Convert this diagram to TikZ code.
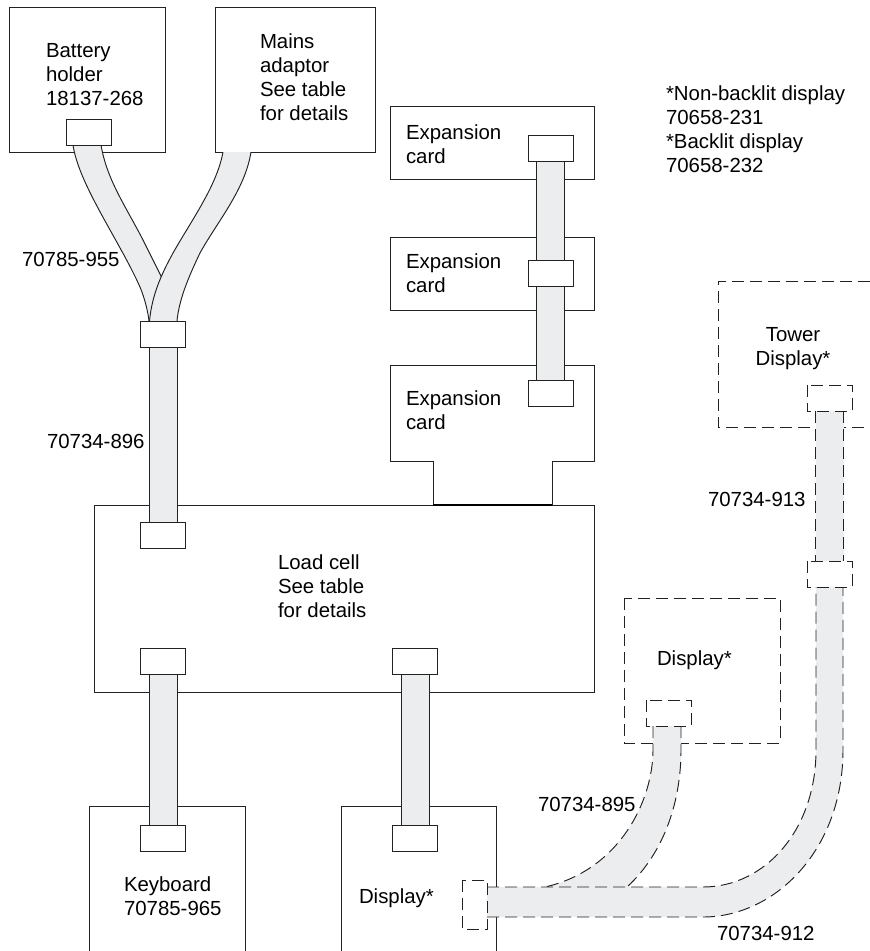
\documentclass[tikz,border=0pt]{standalone}
\usepackage{fontspec}
\setmainfont{Liberation Sans}
\usetikzlibrary{calc}
\definecolor{ink}{HTML}{222222}
\definecolor{band}{HTML}{ECEDEF}
\tikzset{
  box/.style={draw=ink,line width=0.95pt,fill=white,inner sep=0pt,outer sep=0pt,anchor=north west},
  conn/.style={draw=none,fill=none,inner sep=0pt,outer sep=0pt,minimum width=45pt,minimum height=26pt},
  dashline/.style={draw=ink,line width=0.95pt,dash pattern=on 12pt off 6pt},
  solidline/.style={draw=ink,line width=0.95pt},
  lab/.style={inner sep=0pt,outer sep=0pt,anchor=north west,align=left,text=black,
    font=\fontsize{20.4}{24}\selectfont},
}
\newcommand{\vband}[3]{%
  \fill[band] ($(#1.south)+(-14,0)$) rectangle ($(#2.north)+(14,0)$);
  \draw[#3] ($(#1.south)+(-14,0)$) -- ($(#2.north)+(-14,0)$);
  \draw[#3] ($(#1.south)+(14,0)$) -- ($(#2.north)+(14,0)$);
}
\begin{document}
\begin{tikzpicture}[x=1pt,y=-1pt]
\useasboundingbox (0,0) rectangle (870,951);
% boxes
\node[box,minimum width=156pt,minimum height=145pt] (battery) at (9,7) {};
\node[box,minimum width=160pt,minimum height=145pt] (mains) at (215,7) {};
\node[box,minimum width=204pt,minimum height=73pt] (exp1) at (390,106) {};
\node[box,minimum width=204pt,minimum height=73pt] (exp2) at (390,237) {};
\node[box,minimum width=500pt,minimum height=187pt] (load) at (94,505) {};
\draw[solidline,fill=white] (390,365) -- (594,365) -- (594,461) -- (552,461) -- (552,505) -- (433,505) -- (433,461) -- (390,461) -- cycle;
\draw[draw=black,line width=1.6pt] (433,505) -- (552,505);
\node[box,minimum width=156pt,minimum height=145pt] (keyb) at (89,806) {};
\node[box,minimum width=155pt,minimum height=145pt] (disp) at (341,806) {};
\node[box,draw=none,minimum width=156pt,minimum height=145pt] (dispb) at (624,598) {};
\draw[dashline] (dispb.north west) rectangle (dispb.south east);
\draw[dashline] (870,281) -- (718,281) -- (718,427) -- (870,427);
% connector blocks
\node[conn] (jA) at (89,132) {};
\node[conn] (jJ) at (163,334) {};
\node[conn] (jLt) at (163,535) {};
\node[conn] (jLk) at (163,661) {};
\node[conn] (jLd) at (415,661) {};
\node[conn] (jK) at (163,838) {};
\node[conn] (jD) at (415,838) {};
\node[conn] (jE1) at (550.5,148) {};
\node[conn] (jE2) at (550.5,273) {};
\node[conn] (jE3) at (550.5,393) {};
\node[conn] (dB) at (668.5,713) {};
\node[conn] (dT) at (829.5,398) {};
\node[conn] (dM) at (829.5,574) {};
\node[conn,minimum width=25pt,minimum height=49pt] (dS) at (474.5,904.5) {};
% straight cables
\vband{jJ}{jLt}{solidline}
\vband{jLk}{jK}{solidline}
\vband{jLd}{jD}{solidline}
\vband{jE1}{jE2}{solidline}
\vband{jE2}{jE3}{solidline}
% Y cable from battery
\fill[band] (73,145) .. controls (79,185) and (119,240) .. (140,287) .. controls (145,299) and (148,312) .. (149,321)
  -- (177,321) -- (177,300) -- (162,278) -- (143,240) .. controls (125,205) and (107,180) .. (101,145) -- cycle;
\draw[solidline] (73,145) .. controls (79,185) and (119,240) .. (140,287) .. controls (145,299) and (148,312) .. (149,321);
\draw[solidline] (101,145) .. controls (107,180) and (125,205) .. (143,240) -- (162,278);
% Y cable from mains
\fill[band] (223,152) .. controls (217,185) and (193,218) .. (173,253) .. controls (161,275) and (152,295) .. (149.5,321)
  -- (177,321) .. controls (179,300) and (188,278) .. (200,253) .. controls (217,222) and (245,190) .. (251,152) -- cycle;
\draw[solidline] (223,152) .. controls (217,185) and (193,218) .. (173,253) .. controls (161,275) and (152,295) .. (149.5,321);
\draw[solidline] (251,152) .. controls (245,190) and (217,222) .. (200,253) .. controls (188,278) and (179,300) .. (177,321);
% dashed cables
\fill[band] ($(dT.south)+(-14,0)$) rectangle ($(dM.north)+(14,0)$);
\draw[dashline] ($(dT.south)+(-14,0)$) -- ($(dM.north)+(-14,0)$);
\draw[dashline] ($(dT.south)+(14,0)$) -- ($(dM.north)+(14,0)$);
% 895
\fill[band] (653,726) -- (653,750) .. controls (653,800) and (620,870) .. (545,887) -- (627,887) .. controls (665,852) and (681,800) .. (681,750) -- (681,726) -- cycle;
\draw[dashline] (653,726) -- (653,750) .. controls (653,800) and (620,870) .. (545,887);
\draw[dashline] (681,726) -- (681,750) .. controls (681,800) and (665,852) .. (627,887);
% 912/913
\fill[band] (dS.east |- 0,887) -- (703,887) .. controls (765,887) and (816,830) .. (816,750) -- (816,587) -- (843,587) -- (843,750)
  .. controls (843,850) and (775,917) .. (703,917) -- (dS.east |- 0,917) -- cycle;
\draw[dashline] (dS.east |- 0,887) -- (703,887) .. controls (765,887) and (816,830) .. (816,750) -- (816,587);
\draw[dashline] (dS.east |- 0,917) -- (703,917) .. controls (775,917) and (843,850) .. (843,750) -- (843,587);
% connectors on top
\foreach \n in {jA,jJ,jLt,jLk,jLd,jK,jD,jE1,jE2,jE3}{
  \draw[solidline,fill=white] (\n.north west) rectangle (\n.south east);
}
\foreach \n in {dB,dT,dM,dS}{
  \draw[dashline,fill=white] (\n.north west) rectangle (\n.south east);
}
% labels
\node[lab] (t1) at (46,43) {Battery\\holder\\18137-268};
\node[lab] (t2) at (260,34) {Mains\\adaptor\\See table\\for details};
\node[lab] (t3) at (406,125) {Expansion\\card};
\node[lab] (t4) at (406,254) {Expansion\\card};
\node[lab] (t5) at (406,391) {Expansion\\card};
\node[lab] (t6) at (278,555) {Load cell\\See table\\for details};
\node[lab] (t7) at (666,86) {*Non-backlit display\\70658-231\\*Backlit display\\70658-232};
\node[lab,align=center,anchor=north] (t8) at (793,327) {Tower\\Display*};
\node[lab] (t9) at (657,651) {Display*};
\node[lab] (t10) at (124,877) {Keyboard\\70785-965};
\node[lab] (t11) at (359,889) {Display*};
\node[lab] (t12) at (22,252) {70785-955};
\node[lab] (t13) at (47,434) {70734-896};
\node[lab] (t14) at (708,492) {70734-913};
\node[lab] (t15) at (538,797) {70734-895};
\node[lab] (t16) at (717,926) {70734-912};
\end{tikzpicture}
\end{document}
